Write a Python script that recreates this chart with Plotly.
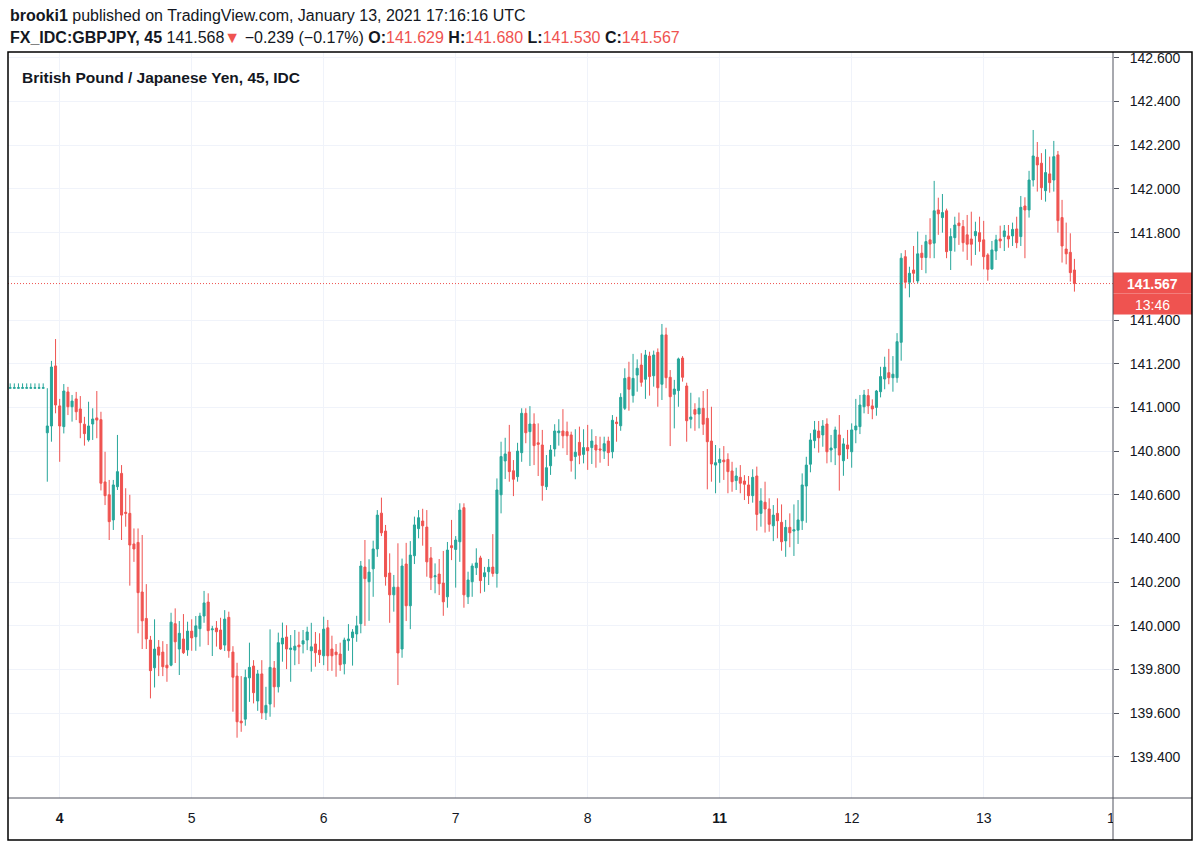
import plotly.graph_objects as go

# ---------------- data (45-minute candles, GBPJPY) ----------------
bar_index = list(range(-9, 250))

open_ = [
    141.088, 141.088, 141.088, 141.088, 141.088, 141.088, 141.088, 141.088, 141.088,
    140.884, 140.915, 141.190, 141.007, 140.912, 141.071, 141.003, 141.039, 140.993, 140.923,
    140.851, 140.924, 140.952, 140.944, 140.659, 140.600, 140.485, 140.637, 140.698, 140.520,
    140.515, 140.375, 140.382, 140.155, 140.034, 139.935, 139.808, 139.903, 139.880, 139.820,
    139.820, 140.010, 139.894, 139.940, 139.890, 139.976, 139.950, 139.987, 140.045, 140.109,
    139.982, 139.990, 139.981, 139.912, 140.039, 139.880, 139.770, 139.564, 139.573, 139.762,
    139.816, 139.656, 139.780, 139.602, 139.642, 139.807, 139.721, 139.917, 139.949, 139.892,
    139.889, 139.912, 139.917, 139.935, 139.886, 139.917, 139.889, 139.863, 139.991, 139.894,
    139.880, 139.871, 139.826, 139.932, 139.946, 139.963, 140.010, 140.269, 140.202, 140.261,
    140.352, 140.516, 140.434, 140.242, 140.142, 140.177, 139.894, 140.283, 140.092, 140.321,
    140.445, 140.480, 140.452, 140.311, 140.225, 140.237, 140.196, 140.133, 140.367, 140.350,
    140.385, 140.541, 140.133, 140.202, 140.266, 140.311, 140.225, 140.248, 140.269, 140.240,
    140.600, 140.755, 140.796, 140.710, 140.683, 140.793, 140.973, 140.889, 140.924, 140.838,
    140.828, 140.637, 140.733, 140.810, 140.884, 140.892, 140.889, 140.874, 140.775, 140.840,
    140.785, 140.816, 140.816, 140.828, 140.810, 140.800, 140.846, 140.797, 140.933, 140.916,
    140.996, 141.138, 141.054, 141.148, 141.194, 141.129, 141.235, 141.145, 141.252, 141.106,
    141.332, 141.138, 141.060, 141.077, 141.226, 141.098, 140.946, 140.990, 140.970, 140.996,
    140.950, 140.846, 140.736, 140.747, 140.759, 140.762, 140.709, 140.665, 140.680, 140.663,
    140.645, 140.596, 140.686, 140.515, 140.566, 140.535, 140.458, 140.515, 140.474, 140.389,
    140.451, 140.434, 140.438, 140.481, 140.640, 140.740, 140.848, 140.892, 140.874, 140.924,
    140.805, 140.814, 140.874, 140.756, 140.828, 140.797, 140.897, 140.912, 141.003, 141.054,
    141.007, 141.000, 141.072, 141.130, 141.159, 141.136, 141.136, 141.298, 141.690, 141.573,
    141.629, 141.579, 141.706, 141.686, 141.767, 141.752, 141.904, 141.869, 141.900, 141.718,
    141.777, 141.844, 141.828, 141.790, 141.771, 141.786, 141.800, 141.767, 141.698, 141.634,
    141.716, 141.771, 141.782, 141.785, 141.785, 141.817, 141.782, 141.922, 141.904, 142.041,
    142.145, 142.118, 141.992, 142.069, 142.041, 142.156, 141.869, 141.725, 141.710, 141.629,
]

high = [
    141.110, 141.110, 141.110, 141.110, 141.110, 141.110, 141.110, 141.110, 141.110,
    141.088, 141.213, 141.313, 141.039, 141.107, 141.094, 141.057, 141.071, 141.052, 140.957,
    141.026, 140.996, 141.075, 140.980, 140.797, 140.668, 140.668, 140.874, 140.736, 140.630,
    140.600, 140.446, 140.446, 140.416, 140.191, 139.954, 140.030, 139.935, 139.930, 139.917,
    140.060, 140.080, 140.022, 140.054, 140.019, 140.030, 140.045, 140.060, 140.160, 140.149,
    140.000, 140.022, 140.037, 140.072, 140.065, 139.907, 139.831, 139.770, 139.800, 139.923,
    139.843, 139.798, 139.843, 139.721, 139.984, 139.839, 139.969, 140.015, 140.003, 139.958,
    139.981, 139.973, 139.981, 139.996, 140.014, 139.972, 139.966, 140.042, 140.027, 139.955,
    139.917, 139.923, 139.946, 140.008, 139.985, 140.046, 140.297, 140.393, 140.305, 140.390,
    140.530, 140.587, 140.462, 140.332, 140.233, 140.378, 140.308, 140.380, 140.388, 140.500,
    140.530, 140.536, 140.530, 140.361, 140.286, 140.306, 140.343, 140.384, 140.485, 140.411,
    140.561, 140.561, 140.248, 140.286, 140.355, 140.321, 140.270, 140.306, 140.420, 140.675,
    140.843, 140.861, 140.920, 140.759, 140.838, 140.996, 140.996, 141.006, 140.973, 140.927,
    140.897, 140.782, 140.828, 140.923, 140.946, 140.992, 140.935, 140.889, 140.900, 140.912,
    140.900, 140.920, 140.900, 140.869, 140.866, 140.866, 140.866, 140.965, 140.957, 141.065,
    141.179, 141.209, 141.245, 141.220, 141.248, 141.263, 141.255, 141.260, 141.270, 141.382,
    141.365, 141.171, 141.126, 141.228, 141.235, 141.113, 141.067, 141.019, 141.046, 141.075,
    141.084, 141.003, 140.828, 140.813, 140.823, 140.790, 140.751, 140.724, 140.736, 140.690,
    140.686, 140.717, 140.729, 140.630, 140.660, 140.584, 140.553, 140.584, 140.556, 140.485,
    140.515, 140.556, 140.576, 140.698, 140.774, 140.882, 140.938, 140.938, 140.942, 140.950,
    140.874, 140.912, 140.965, 140.859, 140.897, 140.927, 141.039, 141.057, 141.080, 141.084,
    141.037, 141.080, 141.186, 141.232, 141.268, 141.235, 141.340, 141.706, 141.720, 141.644,
    141.739, 141.805, 141.744, 141.790, 141.866, 142.037, 141.960, 141.977, 141.910, 141.820,
    141.873, 141.892, 141.858, 141.881, 141.896, 141.850, 141.873, 141.854, 141.706, 141.762,
    141.790, 141.832, 141.835, 141.835, 141.846, 141.873, 141.968, 141.962, 142.083, 142.270,
    142.215, 142.164, 142.182, 142.148, 142.220, 142.174, 141.950, 141.846, 141.797, 141.680,
]

low = [
    141.087, 141.087, 141.087, 141.087, 141.087, 141.087, 141.087, 141.087, 141.087,
    140.660, 140.843, 140.973, 140.751, 140.881, 140.965, 140.935, 140.942, 140.859, 140.825,
    140.843, 140.851, 140.859, 140.620, 140.553, 140.393, 140.439, 140.622, 140.393, 140.454,
    140.184, 140.293, 139.966, 139.894, 139.894, 139.668, 139.718, 139.770, 139.770, 139.744,
    139.815, 139.830, 139.775, 139.871, 139.863, 139.886, 139.886, 139.905, 140.014, 139.912,
    139.862, 139.905, 139.890, 139.885, 139.854, 139.607, 139.488, 139.515, 139.543, 139.652,
    139.645, 139.611, 139.573, 139.569, 139.584, 139.627, 139.695, 139.836, 139.802, 139.744,
    139.820, 139.825, 139.874, 139.889, 139.790, 139.813, 139.830, 139.820, 139.794, 139.794,
    139.767, 139.794, 139.778, 139.886, 139.818, 139.927, 139.966, 140.000, 140.023, 140.133,
    140.316, 140.411, 140.184, 140.014, 140.065, 139.729, 139.854, 140.022, 139.985, 140.283,
    140.401, 140.367, 140.225, 140.164, 140.149, 140.141, 140.046, 140.083, 140.301, 140.175,
    140.293, 140.083, 140.100, 140.133, 140.233, 140.149, 140.156, 140.187, 140.225, 140.175,
    140.515, 140.672, 140.660, 140.594, 140.660, 140.751, 140.836, 140.732, 140.736, 140.686,
    140.573, 140.622, 140.691, 140.775, 140.825, 140.813, 140.782, 140.706, 140.671, 140.740,
    140.744, 140.714, 140.741, 140.724, 140.747, 140.764, 140.732, 140.767, 140.843, 140.893,
    140.988, 140.985, 141.022, 141.072, 141.095, 141.039, 141.054, 141.095, 141.003, 141.034,
    141.088, 140.823, 140.904, 141.003, 141.118, 140.843, 140.904, 140.893, 140.904, 140.874,
    140.625, 140.660, 140.607, 140.655, 140.668, 140.607, 140.614, 140.622, 140.607, 140.576,
    140.558, 140.564, 140.436, 140.454, 140.427, 140.431, 140.388, 140.401, 140.344, 140.316,
    140.360, 140.320, 140.375, 140.439, 140.472, 140.703, 140.813, 140.793, 140.820, 140.744,
    140.749, 140.736, 140.619, 140.687, 140.764, 140.724, 140.836, 140.878, 140.973, 140.970,
    140.946, 140.962, 141.046, 141.083, 141.106, 141.072, 141.113, 141.214, 141.545, 141.504,
    141.571, 141.568, 141.629, 141.614, 141.683, 141.683, 141.790, 141.800, 141.683, 141.629,
    141.713, 141.744, 141.713, 141.675, 141.649, 141.698, 141.713, 141.632, 141.580, 141.629,
    141.675, 141.729, 141.716, 141.731, 141.739, 141.729, 141.739, 141.683, 141.869, 142.011,
    141.988, 141.950, 141.942, 141.983, 141.988, 141.800, 141.663, 141.655, 141.576, 141.530,
]

close = [
    141.090, 141.090, 141.090, 141.090, 141.090, 141.090, 141.090, 141.090, 141.090,
    140.915, 141.185, 141.011, 140.915, 141.075, 141.003, 141.029, 140.980, 140.930, 140.880,
    140.915, 140.947, 140.942, 140.653, 140.596, 140.477, 140.645, 140.706, 140.507, 140.515,
    140.370, 140.352, 140.152, 140.023, 139.940, 139.795, 139.894, 139.866, 139.813, 139.808,
    140.017, 139.927, 139.966, 139.877, 139.976, 139.945, 140.000, 140.045, 140.105, 139.978,
    139.986, 139.973, 139.894, 140.031, 139.886, 139.765, 139.561, 139.556, 139.764, 139.810,
    139.694, 139.780, 139.602, 139.636, 139.810, 139.721, 139.923, 139.944, 139.894, 139.898,
    139.907, 139.904, 139.932, 139.972, 139.904, 139.877, 139.868, 139.985, 139.863, 139.863,
    139.868, 139.822, 139.935, 139.940, 139.972, 140.000, 140.274, 140.216, 140.246, 140.352,
    140.507, 140.426, 140.225, 140.142, 140.177, 139.876, 140.274, 140.092, 140.324, 140.462,
    140.495, 140.458, 140.293, 140.220, 140.229, 140.193, 140.110, 140.347, 140.358, 140.393,
    140.530, 140.142, 140.210, 140.274, 140.288, 140.207, 140.243, 140.268, 140.240, 140.622,
    140.775, 140.787, 140.706, 140.671, 140.800, 140.973, 140.884, 140.924, 140.825, 140.831,
    140.642, 140.724, 140.805, 140.892, 140.892, 140.870, 140.870, 140.756, 140.795, 140.781,
    140.816, 140.802, 140.846, 140.805, 140.805, 140.834, 140.793, 140.941, 140.926, 141.046,
    141.133, 141.083, 141.133, 141.179, 141.115, 141.240, 141.141, 141.240, 141.090, 141.332,
    141.136, 141.049, 141.084, 141.222, 141.138, 140.939, 140.956, 140.969, 140.996, 140.923,
    140.843, 140.741, 140.747, 140.762, 140.751, 140.706, 140.660, 140.686, 140.653, 140.648,
    140.596, 140.680, 140.510, 140.572, 140.535, 140.465, 140.507, 140.481, 140.385, 140.451,
    140.426, 140.440, 140.485, 140.645, 140.736, 140.851, 140.897, 140.861, 140.915, 140.797,
    140.814, 140.897, 140.782, 140.833, 140.810, 140.897, 140.915, 141.011, 141.057, 141.007,
    140.993, 141.075, 141.141, 141.184, 141.136, 141.152, 141.301, 141.683, 141.573, 141.614,
    141.614, 141.703, 141.686, 141.759, 141.748, 141.900, 141.886, 141.892, 141.713, 141.782,
    141.835, 141.832, 141.754, 141.747, 141.747, 141.805, 141.759, 141.690, 141.632, 141.721,
    141.767, 141.762, 141.808, 141.771, 141.815, 141.754, 141.916, 141.904, 142.041, 142.151,
    142.110, 142.006, 142.075, 142.029, 142.148, 141.855, 141.739, 141.703, 141.617, 141.567,
]

day_tick_index = [3, 35, 67, 99, 131, 163, 195, 227]
day_tick_text = ["<b>4</b>", "5", "6", "7", "8", "<b>11</b>", "12", "13"]
price_ticks = [139.4, 139.6, 139.8, 140.0, 140.2, 140.4, 140.6, 140.8,
               141.0, 141.2, 141.4, 141.6, 141.8, 142.0, 142.2, 142.4, 142.6]
hidden_price_tick = 141.6   # covered by the last-price label
countdown = "13:46"

UP = "#26a69a"
DOWN = "#ef5350"
TXT = "#131722"
GRID = "#f0f3fa"
AXIS = "#50535e"
FONT = "Liberation Sans"

# ---------------- layout helpers (pixel -> paper) ----------------
W, H = 1200, 843
L, R, T, B = 8, 1113, 52, 798


def px(xp):
    return (xp - L) / (R - L)


def py(yp):
    return (B - yp) / (B - T)


price_text = ["" if abs(v - hidden_price_tick) < 1e-9 else f"{v:.3f}" for v in price_ticks]

fig = go.Figure()
fig.add_trace(go.Candlestick(
    x=bar_index, open=open_, high=high, low=low, close=close,
    increasing=dict(line=dict(color=UP, width=1), fillcolor=UP),
    decreasing=dict(line=dict(color=DOWN, width=1), fillcolor=DOWN),
    whiskerwidth=0, hoverinfo="skip", showlegend=False,
))

last_close = close[-1]

shapes = [
    # dotted current-price line
    dict(type="line", xref="paper", yref="y", x0=0, x1=1, y0=last_close, y1=last_close,
         line=dict(color=DOWN, width=1, dash="1px,2px"), layer="above"),
    # price label boxes
    dict(type="rect", xref="paper", yref="y", ysizemode="pixel", yanchor=last_close,
         x0=px(1113), x1=px(1192), y0=-10, y1=11, fillcolor=DOWN, line=dict(width=0), layer="above"),
    dict(type="rect", xref="paper", yref="y", ysizemode="pixel", yanchor=last_close,
         x0=px(1113), x1=px(1192), y0=-31, y1=-10, fillcolor=DOWN, line=dict(width=0), layer="above"),
    # axis separators
    dict(type="line", xref="paper", yref="paper", x0=px(8), x1=px(1192), y0=py(798), y1=py(798),
         line=dict(color=AXIS, width=1), layer="above"),
    dict(type="line", xref="paper", yref="paper", x0=px(1113), x1=px(1113), y0=py(52), y1=py(840),
         line=dict(color=AXIS, width=1), layer="above"),
    # outer frame
    dict(type="rect", xref="paper", yref="paper", x0=px(8), x1=px(1192), y0=py(840), y1=py(52),
         line=dict(color="#000000", width=1.5), fillcolor="rgba(0,0,0,0)", layer="above"),
]

annotations = [
    dict(xref="paper", yref="paper", x=px(8), y=py(16), xanchor="left", yanchor="middle",
         showarrow=False, font=dict(size=16, color=TXT, family=FONT),
         text="<b>brooki1</b> published on TradingView.com, January 13, 2021 17:16:16 UTC"),
    dict(xref="paper", yref="paper", x=px(8), y=py(38), xanchor="left", yanchor="middle",
         showarrow=False, font=dict(size=16, color=TXT, family=FONT),
         text=("<b>FX_IDC:GBPJPY, 45</b> 141.568<span style='color:#ef5350'>▼</span> "
               "−0.239 (−0.17%) <b>O:</b><span style='color:#ef5350'>141.629</span> "
               "<b>H:</b><span style='color:#ef5350'>141.680</span> "
               "<b>L:</b><span style='color:#ef5350'>141.530</span> "
               "<b>C:</b><span style='color:#ef5350'>141.567</span>")),
    dict(xref="paper", yref="paper", x=px(20), y=py(77), xanchor="left", yanchor="middle",
         showarrow=False, font=dict(size=15.5, color=TXT, family=FONT),
         text="<b>British Pound / Japanese Yen, 45, IDC</b>"),
    dict(xref="paper", yref="y", x=px(1152), y=last_close, xanchor="center", yanchor="middle",
         showarrow=False, font=dict(size=14, color="#ffffff", family=FONT),
         text=f"<b>{last_close:.3f}</b>"),
    dict(xref="paper", yref="y", x=px(1152), y=last_close, yshift=-21, xanchor="center",
         yanchor="middle", showarrow=False,
         font=dict(size=14, color="#ffffff", family=FONT), text=countdown),
    # next day label, clipped by the price scale
    dict(xref="paper", yref="paper", x=px(1106), y=py(818), xanchor="left", yanchor="middle",
         showarrow=False, width=6, align="left", borderpad=0,
         font=dict(size=14, color=TXT, family=FONT), text="14"),
]

fig.update_layout(
    width=W, height=H,
    margin=dict(l=L, r=W - R, t=T, b=H - B, pad=0),
    paper_bgcolor="#ffffff", plot_bgcolor="#ffffff",
    shapes=shapes, annotations=annotations,
    font=dict(family=FONT, color=TXT, size=14),
    xaxis=dict(
        range=[-9.53, 258.35], tickmode="array", tickvals=day_tick_index, ticktext=day_tick_text,
        showgrid=True, gridcolor=GRID, gridwidth=1, zeroline=False, showline=False,
        ticks="", ticklabelstandoff=10, rangeslider=dict(visible=False),
        tickfont=dict(size=14, color=TXT), fixedrange=True,
    ),
    yaxis=dict(
        side="right", range=[139.212, 142.627], tickmode="array", tickvals=price_ticks,
        ticktext=price_text, showgrid=True, gridcolor=GRID, gridwidth=1, zeroline=False,
        showline=False, ticks="outside", ticklen=5, tickcolor=AXIS,
        ticklabelstandoff=8, tickfont=dict(size=14, color=TXT), fixedrange=True,
    ),
)

fig.write_html("out.html")
